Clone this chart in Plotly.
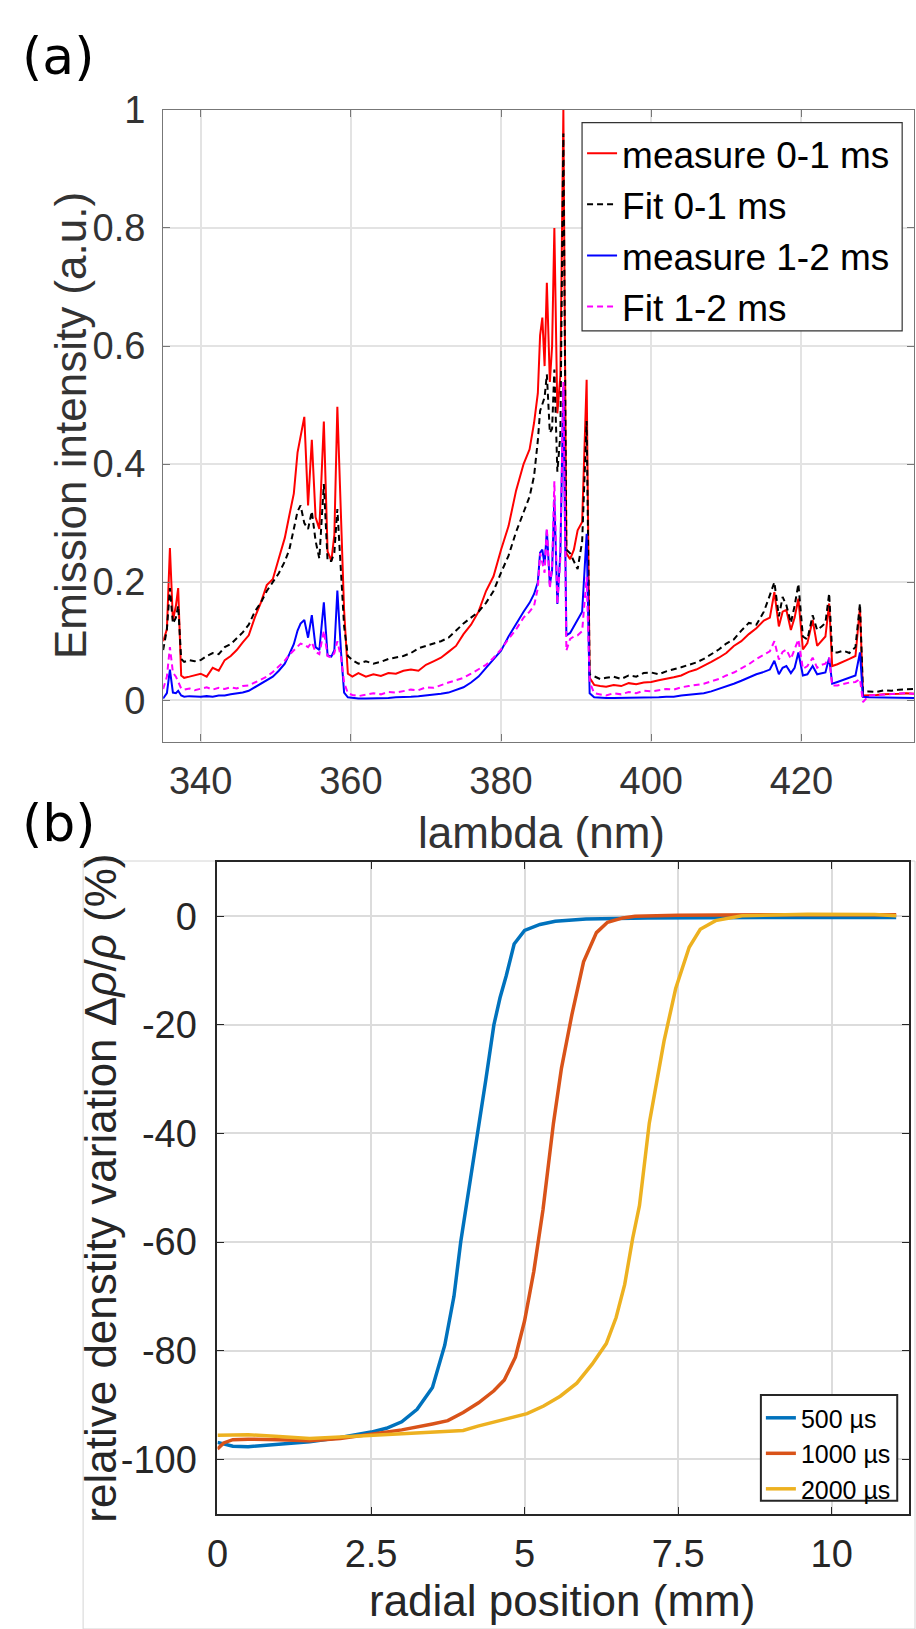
import plotly.graph_objects as go

W, H = 916, 1629

# ---------------- Panel (a) data ----------------
wl = [335.0, 335.5, 335.9, 336.3, 336.7, 337.0, 337.4, 337.8, 338.5, 339.2,
      340.0, 340.8, 341.6, 342.4, 343.2, 344.0, 344.8, 345.6, 346.4, 347.2,
      348.0, 348.8, 349.6, 350.4, 351.2, 351.8, 352.4, 352.9, 353.3, 353.8,
      354.3, 354.8, 355.3, 355.8, 356.4, 356.9, 357.4, 357.8, 358.2, 358.7,
      359.1, 359.6, 360.2, 361.0, 362.0, 363.0, 364.0, 365.0, 366.0, 367.0,
      368.0, 369.0, 370.0, 371.0, 372.0, 373.0, 374.0, 375.0, 376.0, 377.0,
      378.0, 379.0, 380.0, 381.0, 382.0, 383.0, 383.8, 384.4, 384.9, 385.2,
      385.5, 385.8, 386.1, 386.5, 386.8, 387.1, 387.5, 387.9, 388.3, 388.7,
      389.2, 389.7, 390.2, 390.8, 391.4, 391.8, 392.4, 393.2, 394.0, 395.0,
      396.0, 397.0, 398.0, 399.0, 400.0, 401.0, 402.0, 403.0, 404.0, 405.0,
      406.0, 407.0, 408.0, 409.0, 410.0, 411.0, 412.0, 413.0, 414.0, 415.0,
      415.8, 416.4, 417.0, 417.5, 418.0, 418.6, 419.1, 419.6, 420.2, 420.8,
      421.5, 422.1, 422.7, 423.2, 423.7, 424.1, 424.8, 425.6, 426.4, 427.2,
      427.8, 428.2, 429.0, 430.0, 431.0, 432.0, 433.0, 434.0, 435.0]

measure_01 = [0.100, 0.120, 0.258, 0.135, 0.160, 0.190, 0.042, 0.038, 0.040, 0.042,
              0.045, 0.040, 0.055, 0.050, 0.068, 0.075, 0.085, 0.098, 0.110, 0.140,
              0.165, 0.195, 0.205, 0.240, 0.275, 0.313, 0.350, 0.420, 0.445, 0.480,
              0.330, 0.441, 0.310, 0.290, 0.472, 0.252, 0.236, 0.280, 0.497, 0.291,
              0.152, 0.045, 0.040, 0.046, 0.040, 0.044, 0.041, 0.046, 0.045, 0.050,
              0.052, 0.050, 0.060, 0.066, 0.072, 0.082, 0.092, 0.112, 0.128, 0.150,
              0.185, 0.210, 0.255, 0.295, 0.355, 0.400, 0.425, 0.470, 0.520, 0.618,
              0.648, 0.566, 0.707, 0.539, 0.600, 0.800, 0.486, 0.550, 1.000, 0.249,
              0.239, 0.255, 0.288, 0.302, 0.543, 0.038, 0.026, 0.024, 0.023, 0.026,
              0.024, 0.029, 0.027, 0.030, 0.031, 0.034, 0.036, 0.039, 0.042, 0.048,
              0.052, 0.058, 0.065, 0.072, 0.080, 0.092, 0.100, 0.112, 0.122, 0.135,
              0.140, 0.183, 0.125, 0.150, 0.153, 0.119, 0.140, 0.172, 0.086, 0.097,
              0.136, 0.092, 0.100, 0.108, 0.164, 0.058, 0.061, 0.065, 0.070, 0.075,
              0.158, 0.008, 0.008, 0.009, 0.010, 0.010, 0.011, 0.012, 0.011]

fit_01 = [0.085, 0.120, 0.190, 0.130, 0.140, 0.160, 0.070, 0.065, 0.068, 0.066,
          0.068, 0.075, 0.080, 0.078, 0.090, 0.095, 0.105, 0.115, 0.128, 0.150,
          0.165, 0.185, 0.200, 0.215, 0.235, 0.255, 0.290, 0.320, 0.330, 0.300,
          0.290, 0.320, 0.270, 0.240, 0.366, 0.236, 0.236, 0.250, 0.324, 0.200,
          0.125, 0.075, 0.068, 0.062, 0.066, 0.062, 0.065, 0.070, 0.072, 0.075,
          0.080, 0.088, 0.092, 0.096, 0.100, 0.106, 0.118, 0.130, 0.140, 0.150,
          0.165, 0.185, 0.216, 0.245, 0.285, 0.320, 0.345, 0.380, 0.440, 0.490,
          0.500, 0.513, 0.552, 0.453, 0.460, 0.560, 0.387, 0.450, 0.960, 0.255,
          0.249, 0.235, 0.222, 0.269, 0.473, 0.044, 0.040, 0.036, 0.038, 0.040,
          0.036, 0.042, 0.040, 0.046, 0.047, 0.044, 0.049, 0.052, 0.056, 0.060,
          0.064, 0.070, 0.078, 0.086, 0.096, 0.103, 0.118, 0.131, 0.128, 0.150,
          0.178, 0.200, 0.142, 0.175, 0.161, 0.131, 0.160, 0.197, 0.108, 0.103,
          0.144, 0.119, 0.125, 0.131, 0.181, 0.081, 0.081, 0.084, 0.080, 0.090,
          0.164, 0.014, 0.015, 0.014, 0.017, 0.016, 0.018, 0.019, 0.019]

measure_12 = [0.003, 0.012, 0.052, 0.013, 0.012, 0.016, 0.008, 0.006, 0.007, 0.006,
              0.006, 0.007, 0.006, 0.008, 0.008, 0.010, 0.011, 0.013, 0.016, 0.022,
              0.028, 0.033, 0.040, 0.050, 0.062, 0.078, 0.095, 0.118, 0.130, 0.136,
              0.106, 0.144, 0.090, 0.085, 0.166, 0.076, 0.074, 0.085, 0.186, 0.080,
              0.013, 0.005, 0.004, 0.003, 0.003, 0.003, 0.004, 0.004, 0.005, 0.005,
              0.006, 0.007, 0.008, 0.009, 0.011, 0.013, 0.017, 0.022, 0.030, 0.040,
              0.055, 0.070, 0.084, 0.108, 0.130, 0.150, 0.165, 0.180, 0.200, 0.250,
              0.255, 0.229, 0.288, 0.196, 0.220, 0.340, 0.163, 0.250, 0.530, 0.110,
              0.114, 0.125, 0.137, 0.150, 0.282, 0.012, 0.005, 0.004, 0.004, 0.004,
              0.004, 0.004, 0.004, 0.005, 0.004, 0.005, 0.006, 0.006, 0.008, 0.009,
              0.010, 0.012, 0.015, 0.019, 0.023, 0.028, 0.033, 0.039, 0.044, 0.048,
              0.052, 0.067, 0.044, 0.055, 0.058, 0.046, 0.055, 0.081, 0.042, 0.044,
              0.058, 0.044, 0.046, 0.047, 0.072, 0.028, 0.031, 0.035, 0.038, 0.042,
              0.081, 0.006, 0.005, 0.005, 0.004, 0.004, 0.004, 0.004, 0.004]

fit_12 = [0.019, 0.040, 0.090, 0.047, 0.040, 0.030, 0.020, 0.018, 0.020, 0.017,
          0.019, 0.022, 0.018, 0.021, 0.019, 0.022, 0.020, 0.024, 0.025, 0.030,
          0.035, 0.040, 0.048, 0.057, 0.067, 0.077, 0.085, 0.092, 0.096, 0.094,
          0.090, 0.098, 0.082, 0.078, 0.118, 0.075, 0.072, 0.080, 0.100, 0.072,
          0.030, 0.012, 0.009, 0.007, 0.009, 0.012, 0.010, 0.014, 0.013, 0.016,
          0.018, 0.017, 0.022, 0.021, 0.026, 0.030, 0.034, 0.038, 0.045, 0.052,
          0.060, 0.072, 0.086, 0.104, 0.120, 0.140, 0.150, 0.160, 0.190, 0.249,
          0.230, 0.216, 0.292, 0.189, 0.230, 0.371, 0.163, 0.240, 0.539, 0.084,
          0.104, 0.108, 0.110, 0.117, 0.209, 0.031, 0.012, 0.010, 0.008, 0.012,
          0.010, 0.014, 0.012, 0.016, 0.015, 0.017, 0.019, 0.018, 0.022, 0.024,
          0.026, 0.028, 0.032, 0.036, 0.042, 0.047, 0.054, 0.061, 0.070, 0.078,
          0.083, 0.100, 0.069, 0.082, 0.086, 0.070, 0.085, 0.103, 0.053, 0.058,
          0.072, 0.055, 0.060, 0.062, 0.072, 0.025, 0.025, 0.028, 0.030, 0.031,
          0.036, -0.003, 0.008, 0.009, 0.010, 0.011, 0.011, 0.012, 0.011]

a_xticks = [340, 360, 380, 400, 420]
a_yticks = [0, 0.2, 0.4, 0.6, 0.8, 1]
a_yticktext = ["0", "0.2", "0.4", "0.6", "0.8", "1"]

# ---------------- Panel (b) data ----------------
x_500 = [0, 0.25, 0.5, 0.75, 1.0, 1.5, 2.0, 2.5, 2.75, 3.0, 3.25, 3.5, 3.7, 3.85, 3.96,
         4.1, 4.23, 4.37, 4.5, 4.6, 4.7, 4.83, 5.0, 5.25, 5.5, 6.0, 7.0, 8.0, 9.0, 10.0, 11.05]
y_500 = [-96.9, -97.6, -97.7, -97.5, -97.3, -96.8, -96.0, -95.0, -94.3, -93.1, -90.8, -86.8,
         -79.0, -70.0, -60.0, -50.0, -40.0, -30.0, -20.0, -15.0, -11.0, -5.1, -2.6, -1.5,
         -0.9, -0.5, -0.3, -0.2, -0.2, -0.2, -0.2]
x_1000 = [0, 0.1, 0.25, 0.5, 1.0, 1.5, 2.0, 2.5, 3.0, 3.5, 3.75, 4.0, 4.25, 4.5, 4.67, 4.85,
          5.0, 5.15, 5.3, 5.47, 5.6, 5.77, 5.96, 6.17, 6.35, 6.6, 6.8, 7.5, 8.5, 9.5, 10.5, 11.05]
y_1000 = [-98.1, -97.0, -96.4, -96.3, -96.4, -96.6, -96.2, -95.4, -94.6, -93.5, -92.9, -91.4,
          -89.6, -87.4, -85.4, -81.2, -74.5, -65.4, -54.0, -38.1, -28.0, -18.1, -8.4, -3.0,
          -1.1, -0.3, 0.0, 0.2, 0.3, 0.3, 0.3, 0.3]
x_2000 = [0, 0.5, 1.0, 1.5, 2.0, 2.5, 3.0, 3.5, 4.0, 4.24, 4.77, 5.04, 5.31, 5.58, 5.85, 6.1,
          6.33, 6.49, 6.63, 6.76, 6.87, 7.03, 7.27, 7.46, 7.68, 7.86, 8.11, 8.54, 9.61, 10.7, 11.05]
y_2000 = [-95.6, -95.5, -95.8, -96.2, -95.9, -95.6, -95.4, -95.0, -94.7, -93.9, -92.4, -91.6,
          -90.2, -88.4, -86.0, -82.5, -78.7, -73.9, -67.8, -59.3, -53.3, -38.1, -23.0, -13.3,
          -5.7, -2.4, -0.8, 0.1, 0.4, 0.35, 0.1]

b_xticks = [0, 2.5, 5, 7.5, 10]
b_xticktext = ["0", "2.5", "5", "7.5", "10"]
b_yticks = [0, -20, -40, -60, -80, -100]
b_yticktext = ["0", "-20", "-40", "-60", "-80", "-100"]

FONT = "Liberation Sans, Arial, sans-serif"

fig = go.Figure()

dash_pat = "6px,4px"
fig.add_trace(go.Scatter(x=wl, y=measure_01, mode="lines", name="measure 0-1 ms",
                         line=dict(color="#ff0000", width=2), xaxis="x", yaxis="y", legend="legend"))
fig.add_trace(go.Scatter(x=wl, y=fit_01, mode="lines", name="Fit 0-1 ms",
                         line=dict(color="#000000", width=2, dash=dash_pat), xaxis="x", yaxis="y", legend="legend"))
fig.add_trace(go.Scatter(x=wl, y=measure_12, mode="lines", name="measure 1-2 ms",
                         line=dict(color="#0000ff", width=2), xaxis="x", yaxis="y", legend="legend"))
fig.add_trace(go.Scatter(x=wl, y=fit_12, mode="lines", name="Fit 1-2 ms",
                         line=dict(color="#ff00ff", width=2, dash=dash_pat), xaxis="x", yaxis="y", legend="legend"))

fig.add_trace(go.Scatter(x=x_500, y=y_500, mode="lines", name="500 µs",
                         line=dict(color="#0072BD", width=3.5), xaxis="x2", yaxis="y2", legend="legend2"))
fig.add_trace(go.Scatter(x=x_1000, y=y_1000, mode="lines", name="1000 µs",
                         line=dict(color="#D95319", width=3.5), xaxis="x2", yaxis="y2", legend="legend2"))
fig.add_trace(go.Scatter(x=x_2000, y=y_2000, mode="lines", name="2000 µs",
                         line=dict(color="#EDB120", width=3.5), xaxis="x2", yaxis="y2", legend="legend2"))

def px_x(p):
    return p / W

def px_y(p):
    return 1 - p / H

axis_a = dict(showline=True, linecolor="#777777", linewidth=1.2, mirror="ticks",
              ticks="inside", ticklen=7, tickcolor="#777777", showgrid=True,
              gridcolor="#e3e3e3", gridwidth=1.5, zeroline=False,
              tickfont=dict(family=FONT, size=38, color="#333333"))
axis_b = dict(showline=True, linecolor="#262626", linewidth=2, mirror="ticks",
              ticks="inside", ticklen=7, tickcolor="#262626", showgrid=True,
              gridcolor="#dcdcdc", gridwidth=1.5, zeroline=False,
              tickfont=dict(family=FONT, size=38, color="#262626"))

fig.update_layout(
    width=W, height=H,
    margin=dict(l=0, r=0, t=0, b=0),
    paper_bgcolor="white", plot_bgcolor="white",
    font=dict(family=FONT, color="#262626"),
    xaxis=dict(axis_a, domain=[px_x(154), px_x(914)], range=[335, 435],
               tickvals=a_xticks, anchor="y", ticklabelstandoff=6),
    yaxis=dict(axis_a, domain=[px_y(730), px_y(90)], range=[-0.07, 1.0],
               tickvals=a_yticks, ticktext=a_yticktext, anchor="x", ticklabelstandoff=9),
    xaxis2=dict(axis_b, domain=[px_x(209), px_x(909)], range=[0, 11.26],
                tickvals=b_xticks, ticktext=b_xticktext, anchor="y2", ticklabelstandoff=6),
    yaxis2=dict(axis_b, domain=[px_y(1512), px_y(852)], range=[-110, 10],
                tickvals=b_yticks, ticktext=b_yticktext, anchor="x2", ticklabelstandoff=11),
    legend=dict(x=px_x(578), xanchor="left", y=px_y(103), yanchor="top",
                font=dict(family=FONT, size=37, color="#000000"),
                bgcolor="rgba(0,0,0,0)", borderwidth=0,
                tracegroupgap=0, itemwidth=30),
    legend2=dict(x=px_x(759), xanchor="left", y=px_y(1392), yanchor="top",
                 font=dict(family=FONT, size=25, color="#000000"),
                 bgcolor="rgba(0,0,0,0)", borderwidth=0,
                 tracegroupgap=0, itemwidth=30),
    showlegend=True,
)

annotations = [
    dict(text="(a)", x=px_x(9), y=px_y(35), xanchor="left", yanchor="middle",
         font=dict(family="DejaVu Sans", size=52, color="#000000")),
    dict(text="(b)", x=px_x(9), y=px_y(812), xanchor="left", yanchor="middle",
         font=dict(family="DejaVu Sans", size=52, color="#000000")),
    dict(text="Emission intensity (a.u.)", x=px_x(60), y=px_y(410), textangle=-90,
         xanchor="center", yanchor="middle", font=dict(family=FONT, size=44, color="#333333")),
    dict(text="lambda (nm)", x=px_x(537), y=px_y(822), xanchor="center", yanchor="middle",
         font=dict(family=FONT, size=44, color="#333333")),
    dict(text="relative denstity variation Δ<i>ρ</i>/<i>ρ</i> (%)", x=px_x(91), y=px_y(1182),
         textangle=-90, xanchor="center", yanchor="middle",
         font=dict(family=FONT, size=44, color="#262626")),
    dict(text="radial position (mm)", x=px_x(558), y=px_y(1600), xanchor="center", yanchor="middle",
         font=dict(family=FONT, size=44, color="#262626")),
]
for a in annotations:
    a.update(xref="paper", yref="paper", showarrow=False)
fig.update_layout(annotations=annotations)

# light frame around panel (b)
fig.add_shape(type="rect", xref="paper", yref="paper",
              x0=px_x(73), x1=px_x(915), y0=px_y(1629), y1=px_y(851),
              line=dict(color="#d4d4d4", width=1), layer="below")
# legend boxes
fig.add_shape(type="rect", xref="paper", yref="paper",
              x0=px_x(578), x1=px_x(902), y0=px_y(314), y1=px_y(103),
              line=dict(color="#333333", width=1.2), fillcolor="white", layer="above")
fig.add_shape(type="rect", xref="paper", yref="paper",
              x0=px_x(759), x1=px_x(897), y0=px_y(1499), y1=px_y(1392),
              line=dict(color="#262626", width=2), fillcolor="white", layer="above")

fig.write_html("out.html")
